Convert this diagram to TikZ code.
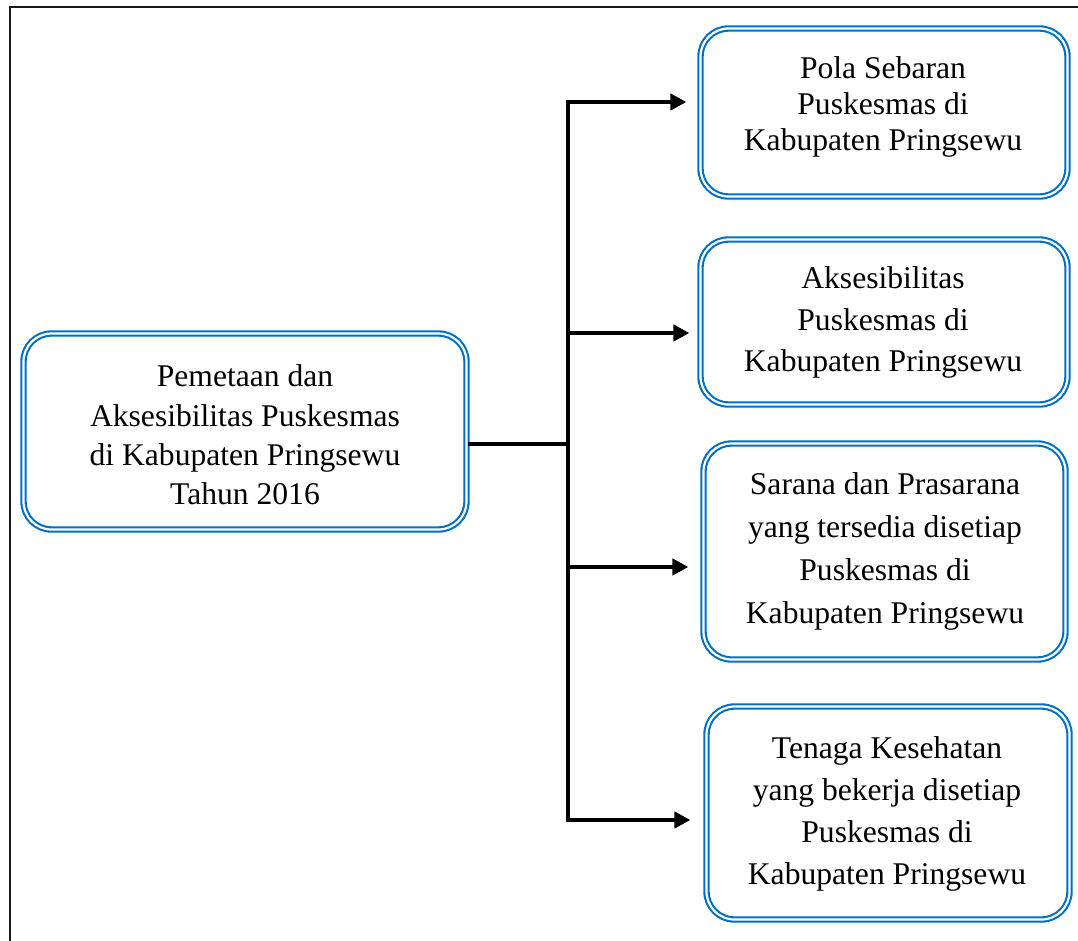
\documentclass[tikz,border=0pt]{standalone}
\usepackage{fontspec}
\setmainfont{Liberation Serif}
\usetikzlibrary{arrows.meta}
\definecolor{boxblue}{RGB}{0,112,192}
\newcommand{\lines}[2]{{\fontsize{31.6}{#1}\selectfont\begin{tabular}[t]{@{}c@{}}#2\end{tabular}}}
\begin{document}
\begin{tikzpicture}[x=1pt,y=-1pt,
  dbox/.style={draw=boxblue, line width=2.1pt, double=white, double distance=2.2pt,
    rounded corners=28pt, inner sep=0pt, fill=white},
  txt/.style={anchor=base, inner sep=0pt},
  conn/.style={draw=black, line width=4pt},
  arr/.style={conn, -{Triangle[length=16pt,width=16pt]}}]
\useasboundingbox (0,0) rectangle (1078,941);
% outer frame (cut off at right and bottom)
\draw[line width=2.6pt, black!90] (10,960) -- (10,7) -- (1100,7);
% boxes
\node[dbox, minimum width=443pt, minimum height=196pt] (mb) at (245,431.5) {};
\node[dbox, minimum width=367pt, minimum height=168pt] (b1) at (884,112.5) {};
\node[dbox, minimum width=367pt, minimum height=165pt] (b2) at (884,322) {};
\node[dbox, minimum width=362pt, minimum height=216pt] (b3) at (884.5,551.5) {};
\node[dbox, minimum width=363pt, minimum height=213pt] (b4) at (888,813) {};
% texts
\node[txt] (tm) at (245,386.7) {\lines{39.4}{Pemetaan dan\\Aksesibilitas Puskesmas\\di Kabupaten Pringsewu\\Tahun 2016}};
\node[txt] (t1) at (883,78.3) {\lines{36}{Pola Sebaran\\Puskesmas di\\Kabupaten Pringsewu}};
\node[txt] (t2) at (883,288.3) {\lines{41.7}{Aksesibilitas\\Puskesmas di\\Kabupaten Pringsewu}};
\node[txt] (t3) at (885,494) {\lines{43}{Sarana dan Prasarana\\yang tersedia disetiap\\Puskesmas di\\Kabupaten Pringsewu}};
\node[txt] (t4) at (887,758) {\lines{42.3}{Tenaga Kesehatan\\yang bekerja disetiap\\Puskesmas di\\Kabupaten Pringsewu}};
% connectors
\coordinate (j0) at (568,444);
\coordinate (j1) at (568,102);
\coordinate (j2) at (568,333);
\coordinate (j3) at (568,567);
\coordinate (j4) at (568,820);
\draw[conn] (mb.east |- j0) -- (j0);
\draw[conn, line cap=rect] (j1) -- (j4);
\draw[arr, shorten >=13pt] (j1) -- (b1.west |- j1);
\draw[arr, shorten >=10pt] (j2) -- (b2.west |- j2);
\draw[arr, shorten >=14pt] (j3) -- (b3.west |- j3);
\draw[arr, shorten >=15pt] (j4) -- (b4.west |- j4);
\end{tikzpicture}
\end{document}
